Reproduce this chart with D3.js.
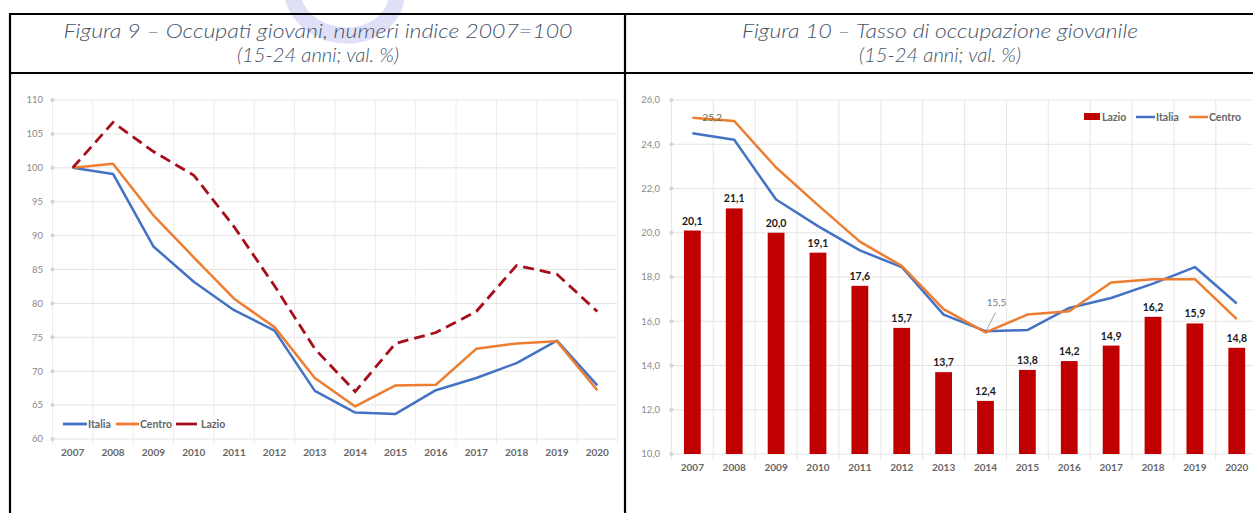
<!DOCTYPE html>
<html>
<head>
<meta charset="utf-8">
<script src="https://cdn.jsdelivr.net/npm/d3@7"></script>
<style>
  html, body { margin: 0; padding: 0; background: #fff; }
  svg { display: block; font-family: Lato, "Open Sans", sans-serif; }
</style>
</head>
<body>
<svg id="page" width="1253" height="513"></svg>
<script>
// --- data ---
const years = ["2007","2008","2009","2010","2011","2012","2013","2014","2015","2016","2017","2018","2019","2020"];

// Figura 9: numeri indice 2007=100
const idxItalia = [100, 99.1, 88.4, 83.2, 79.0, 76.0, 67.1, 63.9, 63.7, 67.2, 69.0, 71.2, 74.5, 67.9];
const idxCentro = [100, 100.6, 93.0, 86.8, 80.7, 76.5, 69.0, 64.8, 67.9, 68.0, 73.3, 74.1, 74.4, 67.2];
const idxLazio  = [100, 106.7, 102.4, 98.9, 91.3, 82.6, 73.3, 67.0, 74.1, 75.7, 78.8, 85.6, 84.3, 78.8];
const leftTicks = [60, 65, 70, 75, 80, 85, 90, 95, 100, 105, 110];

// Figura 10: tasso di occupazione giovanile
const tassoLazio  = [20.1, 21.1, 20.0, 19.1, 17.6, 15.7, 13.7, 12.4, 13.8, 14.2, 14.9, 16.2, 15.9, 14.8];
const tassoItalia = [24.5, 24.2, 21.5, 20.3, 19.2, 18.45, 16.3, 15.55, 15.6, 16.6, 17.05, 17.7, 18.45, 16.8];
const tassoCentro = [25.2, 25.05, 22.95, 21.25, 19.6, 18.5, 16.55, 15.5, 16.3, 16.45, 17.75, 17.9, 17.9, 16.1];
const rightTicks  = [10, 12, 14, 16, 18, 20, 22, 24, 26];

const BLUE = "#4472c4", ORANGE = "#ed7d31", DARKRED = "#a50f1c", BAR = "#c00000";

const svg = d3.select("#page");

// faint watermark arc at the top
svg.append("path")
  .attr("d", "M292,-6 C300,40 372,52 394,8 L398,-6")
  .attr("fill", "none")
  .attr("stroke", "#c9ccf2")
  .attr("stroke-width", 16)
  .attr("opacity", 0.6);

// --- table frame ---
const frame = svg.append("g").attr("stroke", "#000").attr("stroke-width", 2.2);
frame.append("line").attr("x1", 9).attr("x2", 1253).attr("y1", 14).attr("y2", 14);
frame.append("line").attr("x1", 9).attr("x2", 1253).attr("y1", 73).attr("y2", 73);
frame.append("line").attr("x1", 10).attr("x2", 10).attr("y1", 13).attr("y2", 513);
frame.append("line").attr("x1", 625).attr("x2", 625).attr("y1", 13).attr("y2", 513);

// headers
const head = svg.append("g")
  .attr("fill", "#44546a")
  .attr("font-style", "italic")
  .attr("font-weight", 300)
  .attr("font-size", 20)
  .attr("text-anchor", "middle");
head.append("text").attr("x", 318).attr("y", 38)
  .attr("textLength", 509).attr("lengthAdjust", "spacingAndGlyphs")
  .text("Figura 9 – Occupati giovani, numeri indice 2007=100");
head.append("text").attr("x", 318).attr("y", 62)
  .attr("textLength", 162).attr("lengthAdjust", "spacingAndGlyphs")
  .text("(15-24 anni; val. %)");
head.append("text").attr("x", 940).attr("y", 38)
  .attr("textLength", 396).attr("lengthAdjust", "spacingAndGlyphs")
  .text("Figura 10 – Tasso di occupazione giovanile");
head.append("text").attr("x", 940).attr("y", 62)
  .attr("textLength", 162).attr("lengthAdjust", "spacingAndGlyphs")
  .text("(15-24 anni; val. %)");

// ---------- left chart ----------
const left = function(){
  const g = svg.append("g");
  const x = d3.scaleBand().domain(years).range([52.5, 617.5]);
  const y = d3.scaleLinear().domain([60, 110]).range([439, 100]);
  const cx = d => x(d) + x.bandwidth() / 2;

  // grid
  g.selectAll(".hg").data(leftTicks).enter().append("line")
    .attr("x1", 52.5).attr("x2", 617.5)
    .attr("y1", d => y(d)).attr("y2", d => y(d))
    .attr("stroke", "#e4e4e4").attr("stroke-width", 1);
  const bounds = years.map(d => x(d)).concat([x.range()[1]]);
  g.selectAll(".vg").data(bounds).enter().append("line")
    .attr("x1", d => d).attr("x2", d => d)
    .attr("y1", 100).attr("y2", 445)
    .attr("stroke", "#ececec").attr("stroke-width", 1);

  // y ticks (dots + labels)
  g.selectAll(".dot").data(leftTicks).enter().append("circle")
    .attr("cx", 52.5).attr("cy", d => y(d)).attr("r", 2)
    .attr("fill", "#d4d4d4");
  g.selectAll(".yl").data(leftTicks).enter().append("text")
    .attr("x", 43).attr("y", d => y(d)).attr("dy", "0.35em")
    .attr("text-anchor", "end").attr("font-size", 9.5).attr("fill", "#8a8a8a")
    .text(d => d);

  // x labels
  g.selectAll(".xl").data(years).enter().append("text")
    .attr("x", d => cx(d)).attr("y", 452).attr("dy", "0.35em")
    .attr("text-anchor", "middle").attr("font-size", 10).attr("font-weight", "bold")
    .attr("fill", "#666")
    .text(d => d);

  const line = vals => d3.line().x((v, i) => cx(years[i])).y(v => y(v))(vals);
  g.append("path").attr("d", line(idxItalia)).attr("fill", "none")
    .attr("stroke", BLUE).attr("stroke-width", 2.5).attr("stroke-linejoin", "round");
  g.append("path").attr("d", line(idxCentro)).attr("fill", "none")
    .attr("stroke", ORANGE).attr("stroke-width", 2.5).attr("stroke-linejoin", "round");
  g.append("path").attr("d", line(idxLazio)).attr("fill", "none")
    .attr("stroke", DARKRED).attr("stroke-width", 2.8).attr("stroke-dasharray", "11,6");

  // legend
  const lg = g.append("g").attr("font-size", 10.5).attr("font-weight", "bold").attr("fill", "#666");
  const items = [
    {name: "Italia", color: BLUE, x0: 63, x1: 87, tx: 88},
    {name: "Centro", color: ORANGE, x0: 116, x1: 139, tx: 140},
    {name: "Lazio", color: DARKRED, x0: 176, x1: 197, tx: 201}
  ];
  items.forEach(function(it){
    lg.append("line").attr("x1", it.x0).attr("x2", it.x1).attr("y1", 424).attr("y2", 424)
      .attr("stroke", it.color).attr("stroke-width", 2.8);
    lg.append("text").attr("x", it.tx).attr("y", 424).attr("dy", "0.35em").text(it.name);
  });
}();

// ---------- right chart ----------
const right = function(){
  const g = svg.append("g");
  const x = d3.scaleBand().domain(years).range([671.4, 1257.7]);
  const y = d3.scaleLinear().domain([10, 26]).range([454, 100]);
  const cx = d => x(d) + x.bandwidth() / 2;

  g.selectAll(".hg").data(rightTicks).enter().append("line")
    .attr("x1", 671.4).attr("x2", 1253)
    .attr("y1", d => y(d)).attr("y2", d => y(d))
    .attr("stroke", "#e4e4e4").attr("stroke-width", 1);
  const bounds = years.map(d => x(d));
  g.selectAll(".vg").data(bounds).enter().append("line")
    .attr("x1", d => d).attr("x2", d => d)
    .attr("y1", 100).attr("y2", 460)
    .attr("stroke", "#e6e6e6").attr("stroke-width", 1);

  g.selectAll(".dot").data(rightTicks).enter().append("circle")
    .attr("cx", 671.4).attr("cy", d => y(d)).attr("r", 2)
    .attr("fill", "#d4d4d4");
  g.selectAll(".yl").data(rightTicks).enter().append("text")
    .attr("x", 660).attr("y", d => y(d)).attr("dy", "0.35em")
    .attr("text-anchor", "end").attr("font-size", 9.5).attr("fill", "#8a8a8a")
    .text(d => d.toFixed(1).replace(".", ","));

  g.selectAll(".xl").data(years).enter().append("text")
    .attr("x", d => cx(d)).attr("y", 467).attr("dy", "0.35em")
    .attr("text-anchor", "middle").attr("font-size", 10).attr("font-weight", "bold")
    .attr("fill", "#666")
    .text(d => d);

  const bw = 16.8;
  g.selectAll(".bar").data(tassoLazio).enter().append("rect")
    .attr("x", (d, i) => cx(years[i]) - bw / 2)
    .attr("width", bw)
    .attr("y", d => y(d))
    .attr("height", d => y(10) - y(d))
    .attr("fill", BAR);
  g.selectAll(".bl").data(tassoLazio).enter().append("text")
    .attr("x", (d, i) => cx(years[i]))
    .attr("y", d => y(d) - 6)
    .attr("text-anchor", "middle").attr("font-size", 10.5).attr("font-weight", "bold")
    .attr("fill", "#1a1a1a")
    .text(d => d.toFixed(1).replace(".", ","));

  const line = vals => d3.line().x((v, i) => cx(years[i])).y(v => y(v))(vals);
  g.append("path").attr("d", line(tassoItalia)).attr("fill", "none")
    .attr("stroke", BLUE).attr("stroke-width", 2.5).attr("stroke-linejoin", "round");
  g.append("path").attr("d", line(tassoCentro)).attr("fill", "none")
    .attr("stroke", ORANGE).attr("stroke-width", 2.5).attr("stroke-linejoin", "round");

  // point labels on Centro
  g.append("text")
    .attr("x", cx(years[0]) + 20).attr("y", y(tassoCentro[0])).attr("dy", "0.35em")
    .attr("text-anchor", "middle").attr("font-size", 10).attr("fill", "#6b6b40")
    .text(tassoCentro[0].toFixed(1).replace(".", ","));
  const px = cx(years[7]), py = y(tassoCentro[7]);
  g.append("line").attr("x1", px).attr("y1", py).attr("x2", px + 10).attr("y2", py - 20)
    .attr("stroke", "#8a8a8a").attr("stroke-width", 0.8);
  g.append("text")
    .attr("x", px + 11).attr("y", py - 26)
    .attr("text-anchor", "middle").attr("font-size", 10).attr("fill", "#7a7a7a")
    .text(tassoCentro[7].toFixed(1).replace(".", ","));

  // legend
  const lg = g.append("g").attr("font-size", 10.5).attr("font-weight", "bold").attr("fill", "#666");
  lg.append("rect").attr("x", 1084).attr("y", 113).attr("width", 16).attr("height", 7).attr("fill", BAR);
  lg.append("text").attr("x", 1102).attr("y", 117).attr("dy", "0.35em").text("Lazio");
  lg.append("line").attr("x1", 1136).attr("x2", 1155).attr("y1", 117).attr("y2", 117)
    .attr("stroke", BLUE).attr("stroke-width", 2.5);
  lg.append("text").attr("x", 1156).attr("y", 117).attr("dy", "0.35em").text("Italia");
  lg.append("line").attr("x1", 1189).attr("x2", 1208).attr("y1", 117).attr("y2", 117)
    .attr("stroke", ORANGE).attr("stroke-width", 2.5);
  lg.append("text").attr("x", 1209).attr("y", 117).attr("dy", "0.35em").text("Centro");
}();
</script>
</body>
</html>
